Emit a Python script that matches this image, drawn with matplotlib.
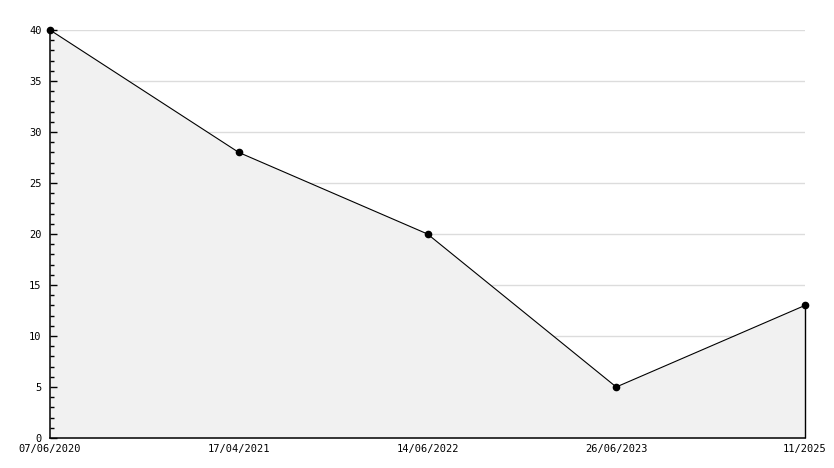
import matplotlib
matplotlib.use("Agg")
import matplotlib.pyplot as plt
from matplotlib.ticker import MultipleLocator

labels = ["07/06/2020", "17/04/2021", "14/06/2022", "26/06/2023", "11/2025"]
values = [40, 28, 20, 5, 13]

fig = plt.figure(figsize=(8.34, 4.68), dpi=100)
ax = fig.add_axes([50/834, 1-438/468, (805-50)/834, (438-30)/468])
x = list(range(len(values)))

ax.set_xlim(0, len(values)-1)
ax.set_ylim(0, 40)
ax.yaxis.set_major_locator(MultipleLocator(5))
ax.yaxis.set_minor_locator(MultipleLocator(1))
yt = [t for t in ax.get_yticks() if 0 < t <= 40]
ax.hlines(yt, 0, len(values)-1, color='#dcdcdc', linewidth=1, zorder=0.5)

ax.fill_between(x, values, 0, color='#f1f1f1', zorder=1, linewidth=0)
ax.plot(x, values, color='black', linewidth=0.8, zorder=3, clip_on=False)
ax.vlines(x[-1], 0, values[-1], color='black', linewidth=1, zorder=3, clip_on=False)
ax.plot(x, values, linestyle='none', marker='o', markersize=4.5, color='black',
        zorder=4, clip_on=False)

for s in ['top', 'right']:
    ax.spines[s].set_visible(False)
ax.spines['left'].set_linewidth(1.1)
ax.spines['bottom'].set_linewidth(1.1)

ax.set_xticks(x)
ax.set_xticklabels(labels, fontfamily='DejaVu Sans Mono', fontsize=7.5)
ax.tick_params(axis='x', length=0, pad=4)
ax.tick_params(axis='y', which='major', direction='in', length=5, width=1, pad=6,
               labelsize=7.5)
ax.tick_params(axis='y', which='minor', direction='in', length=3, width=1)
for t in ax.get_yticklabels():
    t.set_fontfamily('DejaVu Sans Mono')

fig.savefig("out.png", dpi=100)
